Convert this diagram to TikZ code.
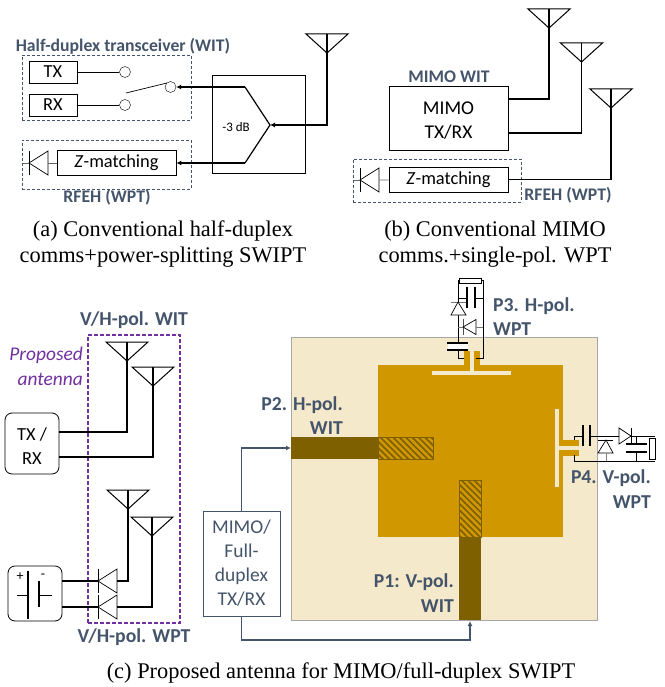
\documentclass[tikz,border=0pt]{standalone}
\usepackage{fontspec}
\setmainfont{Liberation Serif}
\setsansfont{Carlito}
\usetikzlibrary{arrows.meta,patterns.meta}
\definecolor{slate}{HTML}{44546A}
\definecolor{substrate}{HTML}{F5E9CB}
\definecolor{patch}{HTML}{D09700}
\definecolor{feedbrown}{HTML}{7F6000}
\definecolor{violet}{HTML}{7030A0}
\begin{document}
\begin{tikzpicture}[x=1pt,y=-1pt,
        box/.style={draw,line width=0.8pt,inner sep=0pt,font=\sffamily\fontsize{18.4}{22}\selectfont,align=center},
        dashbox/.style={draw=slate,densely dashed,line width=0.7pt},
        port/.style={draw,circle,fill=white,inner sep=0pt,minimum size=11pt},
        wire/.style={line width=1.2pt},
        thin wire/.style={line width=0.7pt},
        feed/.style={line width=1.2pt,-{Latex[length=5pt,width=5pt]}},
        tag/.style={font=\sffamily\bfseries\fontsize{17.7}{20}\selectfont,text=slate,inner sep=0pt},
        bigtag/.style={tag,font=\sffamily\bfseries\fontsize{19.7}{22}\selectfont},
        caption/.style={font=\fontsize{22.4}{26}\selectfont,align=center,inner sep=0pt},
        plate/.style={line width=1.8pt},
        antenna/.pic={
            \draw[line width=1pt] (-21,0) -- (21,0) -- (0,19) -- cycle;
            \draw[wire] (0,0) -- (0,19);
            \coordinate (-feed) at (0,19);
        },
        diode/.pic={
            \draw[thin wire] (0,-12) -- (0,12);
            \draw[thin wire,fill=white] (0,0) -- (19,-12) -- (19,12) -- cycle;
            \coordinate (-bar) at (0,0);
            \coordinate (-base) at (19,0);
        },
        smalldiode/.pic={
            \draw[line width=0.7pt,draw=black!70] (0,-8) -- (0,8);
            \draw[line width=0.7pt,fill=white] (0,0) -- (13,-7.5) -- (13,7.5) -- cycle;
            \coordinate (-bar) at (0,0);
            \coordinate (-base) at (13,0);
        }]
    \useasboundingbox (0,0) rectangle (664,687);

    % (a) half-duplex
    \node[tag] (halflabel) at (123,46) {Half-duplex transceiver (WIT)};
    \node[dashbox,minimum width=169pt,minimum height=65pt,inner sep=0pt] (halfbox) at (106.5,87.5) {};
    \node[box,minimum width=48pt,minimum height=22pt] (tx) at (53,72) {TX};
    \node[box,minimum width=48pt,minimum height=22pt] (rx) at (53,105) {RX};
    \node[port] (txport) at (125,72) {};
    \node[port] (rxport) at (125,105) {};
    \node[port] (swport) at (170.5,87) {};
    \coordinate (swend) at (126,93);
    \draw[thin wire] (tx) -- (txport);
    \draw[thin wire] (rx) -- (rxport);
    \draw[thin wire] (swend) -- (167,83);
    \node[box,minimum width=93pt,minimum height=98pt] (splitter) at (258.5,124) {};
    \node[font=\sffamily\fontsize{13}{15}\selectfont,inner sep=0pt] (db) at (236,127) {-3 dB};
    \coordinate (apex) at (270,125);
    \coordinate (armup) at (245,87);
    \coordinate (armdown) at (245,163);
    \draw[wire] (armup) -- (apex) -- (armdown);
    \pic (anta) at (327,34) {antenna};
    \draw[wire,-{Latex[length=5pt,width=5pt]}] (anta-feed) |- (apex);
    \draw[wire,-{Latex[length=5pt,width=5pt]}] (armup) -- (swport);
    \node[dashbox,minimum width=169pt,minimum height=49pt,inner sep=0pt] (rfboxa) at (106.5,164.5) {};
    \node[box,minimum width=119pt,minimum height=25pt] (zmatcha) at (116.5,163) {\textit{Z}-matching};
    \draw[wire,-{Latex[length=5pt,width=5pt]}] (armdown) -- (zmatcha);
    \pic (diodea) at (29,163) {diode};
    \draw[thin wire,black!60] (diodea-base) -- (zmatcha);
    \draw[thin wire,black!60] (23,163) -- (diodea-bar);
    \node[tag] (rfheada) at (107,197) {RFEH (WPT)};
    \node[caption] (capa) at (163,244) {(a) Conventional half-duplex\\comms+power-splitting SWIPT};

    % (b) MIMO
    \node[tag] (mimolabel) at (449,77) {MIMO WIT};
    \node[box,minimum width=119pt,minimum height=64pt,font=\sffamily\fontsize{19.5}{22}\selectfont] (mimo) at (448.5,118) {\rule{0pt}{18pt}MIMO\\[2pt]TX/RX};
    \pic (antb1) at (549,9) {antenna};
    \pic (antb2) at (581.5,43) {antenna};
    \pic (antb3) at (611,89) {antenna};
    \coordinate (mimoa) at (508,99);
    \coordinate (mimob) at (508,133);
    \draw[wire] (antb1-feed) |- (mimoa);
    \draw[wire] (antb2-feed) |- (mimob);
    \node[dashbox,minimum width=168pt,minimum height=43pt,inner sep=0pt] (rfboxb) at (437,180.5) {};
    \node[box,minimum width=119pt,minimum height=25pt] (zmatchb) at (448.5,179.5) {\textit{Z}-matching};
    \draw[wire] (antb3-feed) |- (zmatchb);
    \pic (diodeb) at (360,180) {diode};
    \draw[thin wire,black!60] (diodeb-base) -- (zmatchb);
    \draw[thin wire,black!60] (354,180) -- (diodeb-bar);
    \node[tag] (rfheadb) at (568,195) {RFEH (WPT)};
    \node[caption] (capb) at (495,244) {(b) Conventional MIMO\\comms.+single-pol. WPT};

    % (c) left
    \node[bigtag] (vhwit) at (134,320) {V/H-pol. WIT};
    \node[draw=violet,dash pattern=on 4pt off 2pt,line width=1.1pt,minimum width=92pt,minimum height=288pt,inner sep=0pt] (propbox) at (134,479) {};
    \node[font=\sffamily\itshape\fontsize{19.4}{25}\selectfont,text=violet,align=right,inner sep=0pt,anchor=east] (proplabel) at (83,366) {Proposed\\antenna};
    \node[box,rounded corners=7pt,minimum width=54pt,minimum height=61pt] (trx) at (32,443.5) {\rule{0pt}{18pt}TX /\\[2pt]RX};
    \pic (antc1) at (127,342) {antenna};
    \pic (antc2) at (153,367) {antenna};
    \pic (antc3) at (128,490) {antenna};
    \pic (antc4) at (152,517) {antenna};
    \coordinate (trxa) at (59,432);
    \coordinate (trxb) at (59,457);
    \draw[wire] (antc1-feed) |- (trxa);
    \draw[wire] (antc2-feed) |- (trxb);
    \pic (diodec1) at (98,581) {diode};
    \pic (diodec2) at (98,607) {diode};
    \draw[wire] (antc3-feed) |- (diodec1-base);
    \draw[wire] (antc4-feed) |- (diodec2-base);
    \node[box,rounded corners=7pt,minimum width=54pt,minimum height=55pt] (batt) at (35,593.5) {};
    \coordinate (batta) at (62,581);
    \coordinate (battb) at (62,607);
    \draw[wire] (batta) -- (diodec1-bar);
    \draw[wire] (battb) -- (diodec2-bar);
    \draw[line width=2.4pt] (28,571) -- (28,619);
    \draw[line width=2.4pt] (39,581) -- (39,607);
    \draw[thin wire] (17,595) -- (28,595);
    \draw[thin wire] (39,595) -- (52,595);
    \node[font=\sffamily\fontsize{14}{16}\selectfont,inner sep=0pt] (plus) at (20,577) {+};
    \node[font=\sffamily\fontsize{14}{16}\selectfont,inner sep=0pt] (minus) at (43,576) {-};
    \node[bigtag] (vhwpt) at (134,637) {V/H-pol. WPT};

    % (c) right, antenna layout
    \fill[substrate,draw=black!35,line width=0.8pt] (291,337) rectangle (597,620);
    \fill[patch] (378,365) rectangle (563,537);
    \fill[feedbrown] (291,437) rectangle (378,459);
    \fill[feedbrown] (459,537) rectangle (481,620);
    \foreach \hx/\hy/\hu/\hv in {378/437/433/459,459/480/481/537}{
        \fill[patch] (\hx,\hy) rectangle (\hu,\hv);
        \fill[pattern={Lines[angle=-45,distance=4.5pt,line width=1.7pt]},pattern color=feedbrown] (\hx,\hy) rectangle (\hu,\hv);
        \draw[feedbrown,line width=0.7pt] (\hx,\hy) rectangle (\hu,\hv);
    }
    % top port
    \fill[patch] (464,351) rectangle (480,366);
    \fill[substrate] (470,351) rectangle (474,373);
    \fill[substrate] (432,371) rectangle (511,375);
    % right port
    \fill[patch] (562,440) rectangle (579,456);
    \fill[substrate] (559,446) rectangle (579,450);
    \fill[substrate] (555,409) rectangle (559,487);

    % rectifier P3
    \draw[thin wire] (464,358) -- (458,358) -- (458,280) -- (483,280) -- (483,358) -- (476,358);
    \node[draw,fill=white,line width=0.6pt,minimum width=22pt,minimum height=5pt,inner sep=0pt] (loadtop) at (470,280.5) {};
    \draw[thin wire] (458,298) -- (467,298);
    \draw[thin wire] (475,298) -- (483,298);
    \draw[plate] (467,287) -- (467,308);
    \draw[plate] (475,287) -- (475,308);
    \fill[white] (448,344) rectangle (468,349);
    \draw[plate] (447,343) -- (468,343);
    \draw[plate] (447,350) -- (468,350);
    \draw[thin wire,black!55] (451,302) -- (466,302);
    \draw[thin wire,fill=white] (458,302) -- (451,315) -- (466,315) -- cycle;
    \pic at (463,327) {smalldiode};
    \draw[thin wire,black!55] (458,327) -- (463,327);
    \draw[thin wire,black!55] (476,327) -- (483,327);

    % rectifier P4
    \draw[thin wire] (574,440) -- (574,436) -- (655,436);
    \draw[thin wire] (574,455) -- (574,461) -- (655,461);
    \fill[substrate] (584,435) rectangle (589,437);
    \draw[plate] (583,425) -- (583,446);
    \draw[plate] (590,425) -- (590,446);
    \draw[thin wire,fill=white] (606,440) -- (598,453) -- (613,453) -- cycle;
    \draw[thin wire] (598,440) -- (613,440);
    \draw[thin wire,black!50] (606,453) -- (606,461);
    \draw[thin wire,fill=white] (619,428) -- (631,436) -- (619,444) -- cycle;
    \draw[thin wire] (631,428) -- (631,444);
    \draw[thin wire] (636,436) -- (636,444);
    \draw[thin wire] (636,452) -- (636,461);
    \draw[plate] (626,444) -- (647,444);
    \draw[plate] (626,452) -- (647,452);
    \node[draw,fill=white,line width=0.6pt,minimum width=6pt,minimum height=21pt,inner sep=0pt] (loadright) at (652,448.5) {};

    % port labels
    \node[bigtag,anchor=west] (pthree) at (493,306) {P3. H-pol.};
    \node[bigtag,anchor=west] (pthreeb) at (493,329) {WPT};
    \node[bigtag,anchor=east] (pfour) at (651,478) {P4. V-pol.};
    \node[bigtag,anchor=east] (pfourb) at (651,502) {WPT};
    \node[bigtag,anchor=east] (ptwo) at (343,405) {P2. H-pol.};
    \node[bigtag,anchor=east] (ptwob) at (343,428) {WIT};
    \node[bigtag,anchor=east] (pone) at (454,582) {P1: V-pol.};
    \node[bigtag,anchor=east] (poneb) at (454,606) {WIT};

    % transceiver feeding the ports
    \node[box,draw=slate,text=slate,line width=1pt,minimum width=77pt,minimum height=105pt,font=\sffamily\fontsize{19.5}{24}\selectfont] (fdbox) at (241.5,563.5) {MIMO/\\Full-\\duplex\\TX/RX};
    \coordinate (ptwoin) at (291,448);
    \coordinate (ponein) at (470,621);
    \draw[feed,draw=slate] (fdbox.north) |- (ptwoin);
    \draw[feed,draw=slate] (fdbox.south) -- (241.5,640) -| (ponein);
    \node[caption] (capc) at (341,673) {(c) Proposed antenna for MIMO/full-duplex SWIPT};
\end{tikzpicture}
\end{document}
